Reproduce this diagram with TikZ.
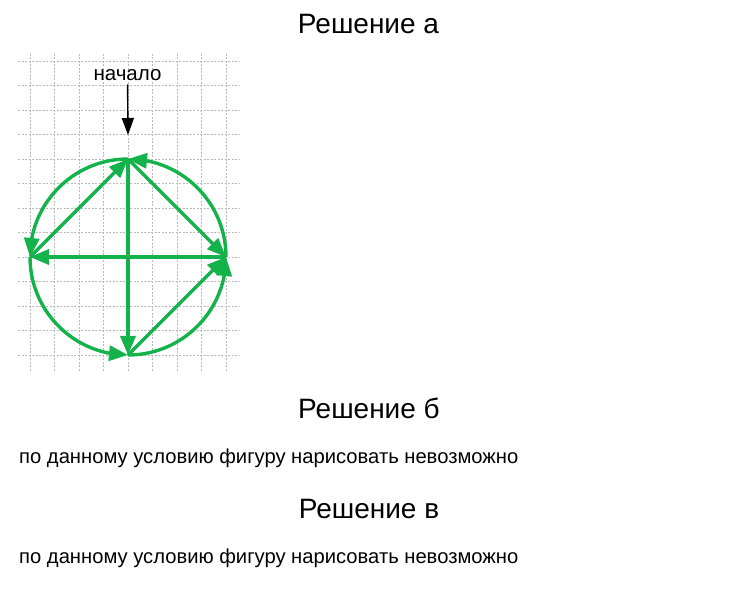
\documentclass[tikz,border=0pt]{standalone}
\usepackage{fontspec}
\setmainfont{Liberation Sans}
\usepackage{xcolor}
\usetikzlibrary{arrows.meta,bending,calc,positioning}

\definecolor{eulergreen}{RGB}{20,178,75}

\begin{document}
\begin{tikzpicture}[x=1pt,y=1pt,
	gridline/.style={gray!55,line width=0.8pt,dash pattern=on 2pt off 1.5pt},
	pathline/.style={eulergreen,line width=3.4pt,-{Triangle[length=19pt,width=15pt]}},
	title/.style={font=\fontsize{28}{32}\selectfont,anchor=base,inner sep=0pt},
	answer/.style={font=\fontsize{20.2}{24}\selectfont,anchor=base west,inner sep=0pt}]
	\useasboundingbox (0,0) rectangle (732,600);
	\foreach \i in {0,...,8} \draw[gridline] (30+24.5*\i,546) -- (30+24.5*\i,228);
	\foreach \j in {0,...,12} \draw[gridline] (18,539-24.5*\j) -- (240,539-24.5*\j);
	% vertices of the figure
	\coordinate (T) at (128,441);
	\coordinate (L) at (30,343);
	\coordinate (R) at (226,343);
	\coordinate (B) at (128,245);
	\coordinate (startTip) at (128,465);
	\node[font=\fontsize{20.5}{24}\selectfont,anchor=base,inner sep=3pt] (start) at (127.5,519) {начало};
	\draw[line width=1.4pt,-{Triangle[length=17pt,width=12pt]}] (start) -- (startTip);
	% arcs of the circle
	\draw[pathline] (T) arc (90:180:98);
	\draw[pathline] (L) arc (180:270:98);
	\draw[pathline] (B) arc (270:360:98);
	\draw[pathline] (R) arc (0:90:98);
	% chords
	\draw[pathline] (L) -- (T);
	\draw[pathline] (T) -- (R);
	\draw[pathline] (T) -- (B);
	\draw[pathline] (R) -- (L);
	\draw[pathline] (B) -- (R);
	% texts
	\node[title] (solA) at (368.5,566.7) {Решение а};
	\node[title] (solB) at (369,181.7) {Решение б};
	\node[answer] (ansB) at (19,136.7) {по данному условию фигуру нарисовать невозможно};
	\node[title] (solC) at (369,81.7) {Решение в};
	\node[answer] (ansC) at (19,36.7) {по данному условию фигуру нарисовать невозможно};
\end{tikzpicture}
\end{document}
